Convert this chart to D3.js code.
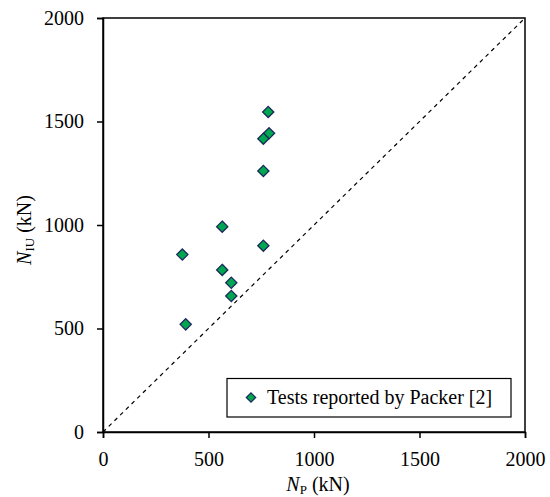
<!DOCTYPE html>
<html><head><meta charset="utf-8">
<script src="https://cdn.jsdelivr.net/npm/d3@7/dist/d3.min.js"></script>
</head><body style="margin:0">
<script>
const npValues = [783, 787, 760, 760, 565, 760, 376, 565, 608, 608, 392];
const niuValues = [1546, 1443, 1417, 1261, 992, 900, 857, 783, 721, 657, 520];
const xTicks = [0, 500, 1000, 1500, 2000];
const yTicks = [0, 500, 1000, 1500, 2000];
const seriesName = "Tests reported by Packer [2]";

const W = 550, H = 497;
const m = {l: 103, r: 25, t: 18, b: 65};
const svg = d3.select("body").append("svg").attr("width", W).attr("height", H);
const x = d3.scaleLinear().domain([0, 2000]).range([m.l, W - m.r]);
const y = d3.scaleLinear().domain([0, 2000]).range([H - m.b, m.t]);

function serifText(sel) {
  return sel.style("font-family", "Liberation Serif").style("font-size", "20px");
}

// frame
svg.append("rect").attr("x", x(0)).attr("y", y(2000)).attr("width", x(2000) - x(0)).attr("height", y(0) - y(2000))
  .attr("fill", "none").attr("stroke", "#000").attr("stroke-width", 1.5);

// axes
const xa = svg.append("g").attr("transform", `translate(0,${y(0)})`)
  .call(d3.axisBottom(x).tickValues(xTicks).tickSize(6).tickPadding(14).tickFormat(d3.format("d")));
const ya = svg.append("g").attr("transform", `translate(${x(0)},0)`)
  .call(d3.axisLeft(y).tickValues(yTicks).tickSize(6).tickPadding(13).tickFormat(d3.format("d")));
[xa, ya].forEach(g => {
  g.attr("font-family", null).attr("font-size", null);
  g.select(".domain").attr("stroke", "#000").attr("stroke-width", 1.5);
  g.selectAll(".tick line").attr("stroke", "#000").attr("stroke-width", 1.5);
  serifText(g.selectAll(".tick text")).attr("fill", "#000");
});

// 1:1 line
svg.append("line").attr("x1", x(0)).attr("y1", y(0)).attr("x2", x(2000)).attr("y2", y(2000))
  .attr("stroke", "#000").attr("stroke-width", 1.2).attr("stroke-dasharray", "4,4");

// points
const sym = d3.symbol().type(d3.symbolDiamond2).size(80);
svg.append("g").selectAll("path").data(npValues.map((v, i) => [v, niuValues[i]])).join("path")
  .attr("d", sym).attr("transform", d => `translate(${x(d[0])},${y(d[1])})`)
  .attr("fill", "#00a650").attr("stroke", "#1b2a5a").attr("stroke-width", 1.3);

// legend
const lg = svg.append("g");
lg.append("rect").attr("x", 227).attr("y", 378.5).attr("width", 284).attr("height", 38.5)
  .attr("fill", "#fff").attr("stroke", "#000").attr("stroke-width", 1.2);
lg.append("path").attr("d", d3.symbol().type(d3.symbolDiamond2).size(55))
  .attr("transform", "translate(251,397.5)").attr("fill", "#00a650").attr("stroke", "#1b2a5a").attr("stroke-width", 1.3);
serifText(svg.append("text").attr("x", 267).attr("y", 404)).text(seriesName);

// axis titles
const xt = serifText(svg.append("text").attr("x", 318).attr("y", 491).attr("text-anchor", "middle"));
xt.append("tspan").style("font-style", "italic").text("N");
xt.append("tspan").attr("dy", 3).style("font-size", "13px").text("P");
xt.append("tspan").attr("dy", -3).text(" (kN)");

const yt = serifText(svg.append("text").attr("transform", "translate(31,230) rotate(-90)").attr("text-anchor", "middle"));
yt.append("tspan").style("font-style", "italic").text("N");
yt.append("tspan").attr("dy", 3).style("font-size", "13px").text("IU");
yt.append("tspan").attr("dy", -3).text(" (kN)");
</script>
</body></html>
